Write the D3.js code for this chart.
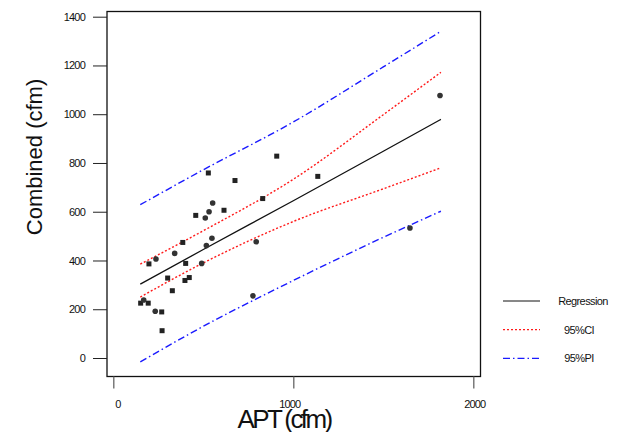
<!DOCTYPE html>
<html>
<head>
<meta charset="utf-8">
<script src="https://cdn.jsdelivr.net/npm/d3@7"></script>
<style>
  body { margin: 0; background: #fff; }
  text { font-family: "Liberation Sans", Arial, sans-serif; }
</style>
</head>
<body>
<div id="chart"></div>
<script>
// observed points (APT, Combined) and marker shape
var aptVals = [908, 528, 676, 552, 532, 458, 511, 615, 830, 386, 548, 517, 794, 341, 237, 198,
               402, 491, 302, 398, 422, 328, 169, 152, 194, 233, 269, 271, 776, 1136, 1648, 1815];
var combVals = [828, 759, 728, 636, 600, 585, 574, 606, 654, 474, 491, 461, 477, 429, 406, 386,
                388, 388, 328, 318, 330, 276, 238, 225, 225, 192, 189, 112, 255, 745, 533, 1077];
var shapes = ["s", "s", "s", "c", "c", "s", "c", "s", "s", "s", "c", "c", "c", "c", "c", "s",
              "s", "c", "s", "s", "s", "s", "c", "s", "s", "c", "s", "s", "c", "s", "c", "c"];

// fitted lines
var fitX = [150, 500, 1000, 1500, 1820];
var regY = [303, 445, 645, 848, 979];
var ciUpper = [385, 522, 733, 998, 1172];
var ciLower = [250, 390, 560, 694, 780];
var piUpper = [629, 772, 968, 1194, 1340];
var piLower = [-16, 130, 318, 495, 602];

var xTicks = [0, 1000, 2000];
var yTicks = [0, 200, 400, 600, 800, 1000, 1200, 1400];
var legendLabels = ["Regression", "95%CI", "95%PI"];

var W = 622, H = 432;
var box = {left: 107, top: 11.5, right: 480.5, bottom: 376.5};

var svg = d3.select("#chart").append("svg")
    .attr("width", W)
    .attr("height", H);

var x = d3.scaleLinear().domain([0, 2000]).range([113.3, 473.3]);
var y = d3.scaleLinear().domain([0, 1400]).range([358, 16.7]);

// frame
svg.append("rect")
    .attr("x", box.left)
    .attr("y", box.top)
    .attr("width", box.right - box.left)
    .attr("height", box.bottom - box.top)
    .style("fill", "none")
    .style("stroke", "#111")
    .style("stroke-width", 1.3);

// y axis
var yAxis = svg.append("g")
    .attr("transform", "translate(" + box.left + ",0)")
    .call(d3.axisLeft(y).tickValues(yTicks).tickFormat(d3.format("d")).tickSize(14).tickPadding(8));
yAxis.select(".domain").remove();
yAxis.selectAll("line").style("stroke", "#222");
yAxis.selectAll("text")
    .style("font-size", "11px")
    .style("letter-spacing", "-0.8px")
    .style("fill", "#111");

// x axis
var xAxis = svg.append("g")
    .attr("transform", "translate(0," + box.bottom + ")")
    .call(d3.axisBottom(x).tickValues(xTicks).tickFormat(d3.format("d")).tickSize(12).tickPadding(12));
xAxis.select(".domain").remove();
xAxis.selectAll("line").style("stroke", "#666").style("stroke-width", 1.3);
xAxis.selectAll("text")
    .attr("dx", function(d) { return d == 0 ? 4 : (d == 1000 ? -4 : 1); })
    .style("font-size", "11px")
    .style("letter-spacing", "-0.8px")
    .style("fill", "#111");

// axis titles
svg.append("text")
    .attr("transform", "translate(42,157) rotate(-90)")
    .attr("text-anchor", "middle")
    .style("font-size", "22px")
    .style("fill", "#111")
    .text("Combined (cfm)");

svg.append("text")
    .attr("x", 284)
    .attr("y", 428)
    .attr("text-anchor", "middle")
    .style("font-size", "26px")
    .style("letter-spacing", "-2.6px")
    .style("fill", "#111")
    .text("APT (cfm)");

// lines
var line = d3.line()
    .curve(d3.curveMonotoneX)
    .x(function(d) { return x(d[0]); })
    .y(function(d) { return y(d[1]); });

function pairs(vals) { return fitX.map(function(v, i) { return [v, vals[i]]; }); }

var styles = [
  {color: "#111", dash: null, width: 1.3},
  {color: "#ff1a1a", dash: "2,2", width: 1.4},
  {color: "#1a1aff", dash: "7,3,1.5,3", width: 1.4}
];

[[regY, 0], [ciUpper, 1], [ciLower, 1], [piUpper, 2], [piLower, 2]].forEach(function(s) {
  var st = styles[s[1]];
  svg.append("path")
      .datum(pairs(s[0]))
      .attr("d", line)
      .style("fill", "none")
      .style("stroke", st.color)
      .style("stroke-width", st.width)
      .style("stroke-dasharray", st.dash);
});

// points
var pts = aptVals.map(function(v, i) { return {x: v, y: combVals[i], s: shapes[i]}; });

svg.selectAll("rect.pt")
    .data(pts.filter(function(d) { return d.s == "s"; }))
  .enter().append("rect")
    .attr("class", "pt")
    .attr("x", function(d) { return x(d.x) - 2.5; })
    .attr("y", function(d) { return y(d.y) - 2.5; })
    .attr("width", 5)
    .attr("height", 5)
    .style("fill", "#222");

svg.selectAll("circle.pt")
    .data(pts.filter(function(d) { return d.s == "c"; }))
  .enter().append("circle")
    .attr("class", "pt")
    .attr("cx", function(d) { return x(d.x); })
    .attr("cy", function(d) { return y(d.y); })
    .attr("r", 2.8)
    .style("fill", "#333");

// legend
var legend = svg.append("g");
legendLabels.forEach(function(lab, i) {
  var st = styles[i];
  var ly = 301 + i * 28.7;
  legend.append("line")
      .attr("x1", 503).attr("x2", 540)
      .attr("y1", ly).attr("y2", ly)
      .style("stroke", st.color)
      .style("stroke-width", i == 0 ? 1 : 1.2)
      .style("stroke-dasharray", st.dash);
  legend.append("text")
      .attr("x", i == 0 ? 583 : 579)
      .attr("y", ly)
      .attr("dy", "0.35em")
      .attr("text-anchor", "middle")
      .style("font-size", "11px")
      .style("letter-spacing", "-0.6px")
      .style("fill", "#111")
      .text(lab);
});
</script>
</body>
</html>
